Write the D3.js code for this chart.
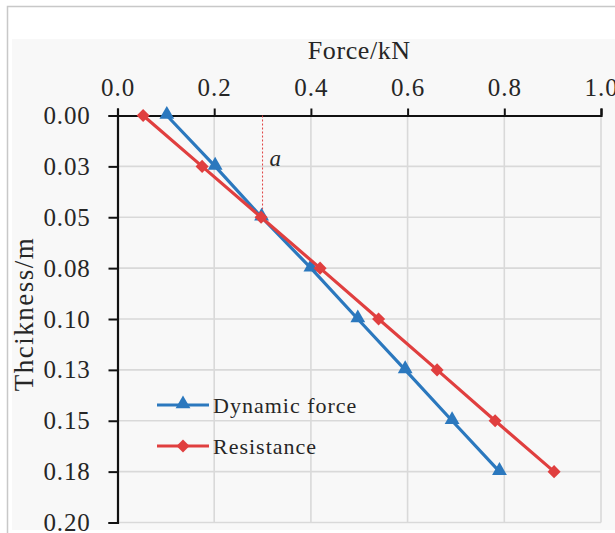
<!DOCTYPE html>
<html>
<head>
<meta charset="utf-8">
<script src="https://cdn.jsdelivr.net/npm/d3@7"></script>
<style>
  html, body { margin: 0; padding: 0; background: #ffffff; }
  svg { display: block; }
  text { font-family: "Liberation Serif", "Times New Roman", serif; fill: #262626; }
</style>
</head>
<body>
<svg id="chart" width="615" height="533"></svg>
<script>
// ---- data ----
const thickness = [0.000, 0.025, 0.050, 0.075, 0.100, 0.125, 0.150, 0.175];
const dynamicForce = [0.102, 0.202, 0.298, 0.400, 0.497, 0.595, 0.692, 0.790];
const resistance = [0.053, 0.175, 0.297, 0.419, 0.540, 0.661, 0.781, 0.903];
const xTicks = [0.0, 0.2, 0.4, 0.6, 0.8, 1.0];
const xTickLabels = ["0.0", "0.2", "0.4", "0.6", "0.8", "1.0"];
const yTicks = [0.000, 0.025, 0.050, 0.075, 0.100, 0.125, 0.150, 0.175, 0.200];
const yTickLabels = ["0.00", "0.03", "0.05", "0.08", "0.10", "0.13", "0.15", "0.18", "0.20"];
const seriesNames = ["Dynamic force", "Resistance"];
const markLineX = 0.3, markLineY0 = 0.0, markLineY1 = 0.05;
const annotation = "a";

// ---- layout ----
const svg = d3.select("#chart");
const W = 615, H = 533;
const plot = { left: 117.5, right: 601, top: 115.5, bottom: 522.5 };
const blue = "#2b78be", red = "#e03f3f";

svg.append("rect").attr("x", 0).attr("y", 0).attr("width", W).attr("height", H).attr("fill", "#ffffff");
svg.append("rect").attr("x", 7.5).attr("y", 6.5).attr("width", W).attr("height", H)
  .attr("fill", "#ffffff").attr("stroke", "#c8c8c8").attr("stroke-width", 1.5);
svg.append("rect").attr("x", 12).attr("y", 39).attr("width", W - 12).attr("height", 491).attr("fill", "#f8f8f8");

const x = d3.scaleLinear().domain([0, 1]).range([plot.left, plot.right]);
const y = d3.scaleLinear().domain([0, 0.2]).range([plot.top, plot.bottom]);

// gridlines
const grid = svg.append("g").attr("stroke", "#d9d9d9").attr("stroke-width", 1.6);
grid.selectAll("line.v").data(xTicks.slice(1)).join("line")
  .attr("x1", d => x(d)).attr("x2", d => x(d)).attr("y1", plot.top).attr("y2", plot.bottom);
grid.selectAll("line.h").data(yTicks.slice(1)).join("line")
  .attr("x1", plot.left).attr("x2", plot.right).attr("y1", d => y(d)).attr("y2", d => y(d));

// axes
const xAxis = d3.axisTop(x).tickValues(xTicks).tickSize(7).tickPadding(13)
  .tickFormat((d, i) => xTickLabels[i]);
const gx = svg.append("g").attr("transform", `translate(0,${plot.top})`).call(xAxis);
gx.select(".domain").attr("stroke", "#111").attr("stroke-width", 2.2);
gx.selectAll(".tick line").attr("stroke", "#111").attr("stroke-width", 2);
gx.selectAll(".tick text").attr("font-size", 25).attr("letter-spacing", 1)
  .style("font-family", '"Liberation Serif", serif').attr("fill", "#2a2a2a");

const yAxis = d3.axisLeft(y).tickValues(yTicks).tickSize(9).tickPadding(18)
  .tickFormat((d, i) => yTickLabels[i]);
const gy = svg.append("g").attr("transform", `translate(${plot.left},0)`).call(yAxis);
gy.select(".domain").attr("stroke", "#111").attr("stroke-width", 2.2);
gy.selectAll(".tick line").attr("stroke", "#111").attr("stroke-width", 2);
gy.selectAll(".tick text").attr("font-size", 25).attr("letter-spacing", 0.8)
  .style("font-family", '"Liberation Serif", serif').attr("fill", "#2a2a2a");

// axis titles
svg.append("text").attr("x", (plot.left + plot.right) / 2).attr("y", 59)
  .attr("text-anchor", "middle").attr("font-size", 26).attr("letter-spacing", 0.6).text("Force/kN");
svg.append("text").attr("transform", `translate(33,${(plot.top + plot.bottom) / 2 - 5}) rotate(-90)`)
  .attr("text-anchor", "middle").attr("font-size", 27).attr("letter-spacing", 1.5).text("Thcikness/m");

// dashed marker line and annotation
svg.append("line").attr("x1", x(markLineX)).attr("x2", x(markLineX))
  .attr("y1", y(markLineY0)).attr("y2", y(markLineY1))
  .attr("stroke", red).attr("stroke-width", 1).attr("stroke-dasharray", "2,2");
svg.append("text").attr("x", x(markLineX) + 7).attr("y", y(0.025) + 0)
  .attr("font-size", 23).attr("font-style", "italic").text(annotation);

// series
const triangle = d3.symbol().type(d3.symbolTriangle).size(95);
const diamond = d3.symbol().type(d3.symbolSquare).size(85);
const series = [
  { name: seriesNames[0], values: dynamicForce, color: blue, marker: "tri" },
  { name: seriesNames[1], values: resistance, color: red, marker: "dia" }
];
const line = d3.line().x(d => x(d[0])).y(d => y(d[1]));
series.forEach(s => {
  const pts = s.values.map((v, i) => [v, thickness[i]]);
  svg.append("path").attr("d", line(pts)).attr("fill", "none")
    .attr("stroke", s.color).attr("stroke-width", 3.2);
  svg.append("g").selectAll("path").data(pts).join("path")
    .attr("d", s.marker === "tri" ? triangle : diamond)
    .attr("transform", d => s.marker === "tri"
      ? `translate(${x(d[0])},${y(d[1]) - 1})`
      : `translate(${x(d[0])},${y(d[1])}) rotate(45)`)
    .attr("fill", s.color);
});

// legend
const legend = svg.append("g");
const legY = [405, 446];
series.forEach((s, i) => {
  const g = legend.append("g");
  g.append("line").attr("x1", 157).attr("x2", 209).attr("y1", legY[i]).attr("y2", legY[i])
    .attr("stroke", s.color).attr("stroke-width", 3.2);
  g.append("path").attr("d", s.marker === "tri" ? triangle : diamond)
    .attr("transform", s.marker === "tri" ? `translate(183,${legY[i] - 1})` : `translate(183,${legY[i]}) rotate(45)`)
    .attr("fill", s.color);
  g.append("text").attr("x", 213).attr("y", legY[i] + 8).attr("font-size", 22)
    .attr("letter-spacing", 1).text(s.name);
});
</script>
</body>
</html>
